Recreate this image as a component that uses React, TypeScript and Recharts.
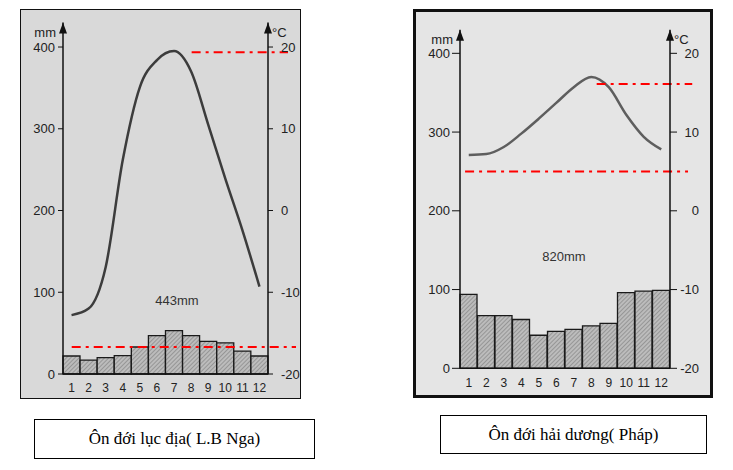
import { ComposedChart, Bar, Line, XAxis, YAxis, ReferenceLine, ReferenceDot } from 'recharts'

const months = [1, 2, 3, 4, 5, 6, 7, 8, 9, 10, 11, 12]
const mmTicks = [0, 100, 200, 300, 400]
const tempTicks = [-20, -10, 0, 10, 20]

// Ôn đới lục địa (L.B Nga)
const ngaRain = [22, 17, 20, 22.5, 33, 47, 53, 47, 40, 38, 28, 22]
const ngaTemp = [-12.8, -12, -6.9, 6.2, 15.1, 18.4, 19.5, 17, 10.5, 3.9, -2.4, -9.3]
const ngaTotal = '443mm'
// dash-dot guides: [temp, from month, to month]
const ngaMax = [19.35, 8.03, 13.67]
const ngaMin = [-16.7, 1.01, 14.14]

// Ôn đới hải dương (Pháp)
const phapRain = [94, 67, 67, 62, 42, 47, 49.5, 54, 57, 96, 98, 99]
const phapTemp = [7.1, 7.2, 8.1, 9.8, 11.7, 13.7, 15.7, 17, 15.7, 12.2, 9.4, 7.8]
const phapTotal = '820mm'
const phapMax = [16.1, 8.31, 13.77]
const phapMin = [5.0, 0.79, 13.53]

const MM_TOP = 430
const T_TOP = MM_TOP / 10 - 20

const font = 'Liberation Sans, Arial, sans-serif'

const arrow = (label: string, side: 'left' | 'right') => (p: any) => (
  <g>
    <path d={`M${p.cx},${p.cy} L${p.cx - 4},${p.cy + 11} L${p.cx + 4},${p.cy + 11} Z`} fill="#111" />
    <text
      x={side === 'left' ? p.cx - 7 : p.cx + 4}
      y={p.cy + 14}
      textAnchor={side === 'left' ? 'end' : 'start'}
      fontSize={13}
      fontFamily={font}
      fill="#222"
    >
      {label}
    </text>
  </g>
)

const totalText = (label: string) => (p: any) => (
  <text x={p.cx} y={p.cy} dy="0.35em" textAnchor="middle" fontSize={13} fontFamily={font} fill="#333">
    {label}
  </text>
)

function ClimateChart(props: any) {
  const { rain, temp, total, totalAt, maxLine, minLine, box, margin, axisW, xH, xMargin,
    leftTick, rightTick, lineColor, pid } = props
  const data = months.map((m, i) => ({ month: m, rain: rain[i], temp: temp[i] }))
  const redLine = (g: number[], key: string) => (
    <ReferenceLine
      key={key}
      yAxisId="t"
      segment={[{ x: g[1], y: g[0] }, { x: g[2], y: g[0] }]}
      ifOverflow="visible"
      stroke="#ff0000"
      strokeWidth={2}
      strokeDasharray="9 5 3 5"
    />
  )
  return (
    <div style={{ position: 'absolute', left: box[0], top: box[1] }}>
      <ComposedChart width={box[2]} height={box[3]} data={data} margin={margin} barCategoryGap={0}>
        <defs>
          <pattern id={pid} width="3" height="3" patternUnits="userSpaceOnUse" patternTransform="rotate(45)">
            <rect width="3" height="3" fill="#bcbcbc" />
            <line x1="0" y1="0" x2="0" y2="3" stroke="#7c7c7c" strokeWidth="1.2" />
          </pattern>
        </defs>
        <XAxis
          dataKey="month"
          type="number"
          domain={[0.5, 12.5]}
          ticks={months}
          interval={0}
          height={xH}
          tickLine={false}
          tickSize={6}
          tickMargin={xMargin}
          axisLine={{ stroke: '#111', strokeWidth: 1.5 }}
          tick={{ fontSize: 12, fontFamily: font, fill: '#222' }}
        />
        <YAxis
          yAxisId="mm"
          domain={[0, MM_TOP]}
          ticks={mmTicks}
          width={axisW[0]}
          tickSize={leftTick[0]}
          tickMargin={leftTick[1]}
          axisLine={{ stroke: '#111', strokeWidth: 1.5 }}
          tickLine={{ stroke: '#111' }}
          tick={{ fontSize: 13, fontFamily: font, fill: '#222' }}
        />
        <YAxis
          yAxisId="t"
          orientation="right"
          domain={[-20, T_TOP]}
          ticks={tempTicks}
          width={axisW[1]}
          tickSize={rightTick[0]}
          tickMargin={rightTick[1]}
          axisLine={{ stroke: '#111', strokeWidth: 1.5 }}
          tickLine={{ stroke: '#111' }}
          tick={{ fontSize: 13, fontFamily: font, fill: '#222', textAnchor: rightTick[2], dx: rightTick[3] }}
        />
        <Bar yAxisId="mm" dataKey="rain" fill={`url(#${pid})`} stroke="#1a1a1a" strokeWidth={1.3} isAnimationActive={false} />
        <Line yAxisId="t" type="monotone" dataKey="temp" stroke={lineColor} strokeWidth={2.5} dot={false} isAnimationActive={false} />
        {redLine(maxLine, 'max')}
        {redLine(minLine, 'min')}
        <ReferenceDot yAxisId="mm" x={0.5} y={MM_TOP} ifOverflow="visible" shape={arrow('mm', 'left')} />
        <ReferenceDot yAxisId="mm" x={12.5} y={MM_TOP} ifOverflow="visible" shape={arrow('°C', 'right')} />
        <ReferenceDot yAxisId="mm" x={totalAt[0]} y={totalAt[1]} ifOverflow="visible" shape={totalText(total)} />
      </ComposedChart>
    </div>
  )
}

const caption: any = {
  position: 'absolute',
  boxSizing: 'border-box',
  border: '1.5px solid #000',
  background: '#fff',
  display: 'flex',
  alignItems: 'center',
  justifyContent: 'center',
  fontFamily: 'Liberation Serif, Times New Roman, serif',
  fontSize: 17,
  color: '#000',
}

export default function App() {
  return (
    <div style={{ position: 'absolute', left: 0, top: 0, width: 733, height: 470, background: '#fff', overflow: 'hidden' }}>
      <div style={{ position: 'absolute', left: 20, top: 9, width: 281, height: 390, boxSizing: 'border-box', border: '1.5px solid #111', background: '#d9d9d9' }} />
      <div style={{ position: 'absolute', left: 413, top: 9, width: 300, height: 389, boxSizing: 'border-box', border: '3px solid #111', background: '#e5e5e5' }} />
      <ClimateChart
        rain={ngaRain}
        temp={ngaTemp}
        total={ngaTotal}
        totalAt={[7.17, 90.5]}
        maxLine={ngaMax}
        minLine={ngaMin}
        box={[20, 9, 281, 390]}
        margin={{ top: 13.5, right: 3, bottom: 5, left: 3 }}
        axisW={[40, 30]}
        xH={20}
        xMargin={3}
        leftTick={[5, 3]}
        rightTick={[5, 8, 'start', 0]}
        lineColor="#3c3c3c"
        pid="hatchNga"
      />
      <ClimateChart
        rain={phapRain}
        temp={phapTemp}
        total={phapTotal}
        totalAt={[6.44, 141.7]}
        maxLine={phapMax}
        minLine={phapMin}
        box={[413, 9, 299, 388]}
        margin={{ top: 20.7, right: 7, bottom: 6.7, left: 7 }}
        axisW={[40, 35]}
        xH={22}
        xMargin={4}
        leftTick={[8, 2]}
        rightTick={[7, 0, 'end', 22]}
        lineColor="#5e5e5e"
        pid="hatchPhap"
      />
      <div style={{ ...caption, left: 34, top: 419, width: 281, height: 40 }}>Ôn đới lục địa( L.B Nga)</div>
      <div style={{ ...caption, left: 440, top: 415, width: 267, height: 39 }}>Ôn đới hải dương( Pháp)</div>
    </div>
  )
}
